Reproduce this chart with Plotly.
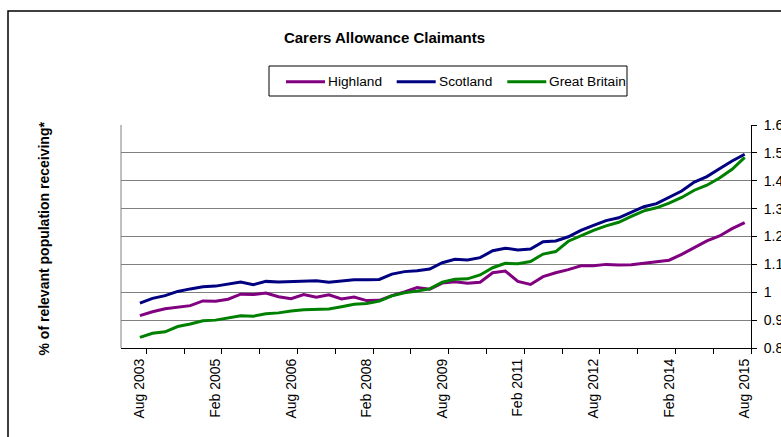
import pandas as pd
import plotly.graph_objects as go

# Quarterly observations, Aug 2003 to Aug 2015
quarters = pd.date_range("2003-08-01", periods=49, freq="3MS").strftime("%b %Y").tolist()

highland = [
    0.916, 0.930, 0.941, 0.947, 0.952, 0.969, 0.968, 0.975, 0.993, 0.992,
    0.997, 0.984, 0.977, 0.992, 0.982, 0.991, 0.976, 0.983, 0.970, 0.971,
    0.988, 1.001, 1.017, 1.011, 1.033, 1.038, 1.032, 1.036, 1.070, 1.076,
    1.039, 1.028, 1.056, 1.070, 1.081, 1.095, 1.095, 1.100, 1.098, 1.099,
    1.105, 1.110, 1.115, 1.136, 1.160, 1.184, 1.202, 1.228, 1.250,
]
scotland = [
    0.961, 0.978, 0.988, 1.003, 1.012, 1.020, 1.022, 1.030, 1.037, 1.027,
    1.039, 1.037, 1.038, 1.040, 1.041, 1.036, 1.040, 1.045, 1.045, 1.046,
    1.065, 1.074, 1.077, 1.083, 1.106, 1.118, 1.116, 1.124, 1.149, 1.158,
    1.152, 1.155, 1.181, 1.184, 1.199, 1.222, 1.240, 1.257, 1.267, 1.287,
    1.307, 1.318, 1.340, 1.363, 1.395, 1.415, 1.443, 1.471, 1.495,
]
great_britain = [
    0.838, 0.853, 0.858, 0.877, 0.886, 0.898, 0.900, 0.909, 0.916, 0.914,
    0.923, 0.926, 0.933, 0.937, 0.939, 0.940, 0.948, 0.957, 0.960, 0.968,
    0.987, 0.998, 1.004, 1.012, 1.036, 1.047, 1.048, 1.062, 1.088, 1.104,
    1.102, 1.110, 1.137, 1.146, 1.183, 1.202, 1.222, 1.238, 1.251, 1.272,
    1.292, 1.303, 1.320, 1.340, 1.366, 1.384, 1.410, 1.441, 1.484,
]

tick_labels = ["Aug 2003", "Feb 2005", "Aug 2006", "Feb 2008", "Aug 2009",
               "Feb 2011", "Aug 2012", "Feb 2014", "Aug 2015"]
y_ticks = [0.8, 0.9, 1.0, 1.1, 1.2, 1.3, 1.4, 1.5, 1.6]

# Slot 0 on the category axis is an empty leading quarter
x = list(range(1, len(quarters) + 1))
n_slots = len(quarters) + 1

FONT = "Liberation Sans, Arial, sans-serif"

series = [
    ("Highland", highland, "#800080"),
    ("Scotland", scotland, "#000080"),
    ("Great Britain", great_britain, "#008000"),
]

W, H = 781, 437
ml, mr, mt, mb = 121, 30, 125, 89
pw, ph = W - ml - mr, H - mt - mb


def px_x(p):
    return (p - ml) / pw


def px_y(p):
    return (H - mb - p) / ph


fig = go.Figure()
for name, values, color in series:
    fig.add_trace(go.Scatter(
        x=x, y=values, name=name, mode="lines",
        line=dict(color=color, width=3),
        showlegend=False,
    ))

# Key box: a coloured line swatch followed by the series name
key_left, key_right, key_top, key_bottom = 269, 627, 66, 96
key_mid = 81.7
swatch_starts = [286, 396.7, 507.3]
swatch_len = 39
key_shapes, key_texts = [], []
for (name, _, color), sx in zip(series, swatch_starts):
    key_shapes.append(dict(
        type="line", xref="paper", yref="paper",
        x0=px_x(sx), x1=px_x(sx + swatch_len), y0=px_y(key_mid), y1=px_y(key_mid),
        line=dict(color=color, width=3),
    ))
    key_texts.append(dict(
        text=name, xref="paper", yref="paper",
        x=px_x(sx + swatch_len + 2), y=px_y(key_mid),
        xanchor="left", yanchor="middle", showarrow=False, borderpad=0,
        font=dict(family=FONT, size=13.7, color="black"),
    ))

fig.update_layout(
    width=W, height=H,
    margin=dict(l=ml, r=mr, t=mt, b=mb, pad=0, autoexpand=False),
    paper_bgcolor="white", plot_bgcolor="white",
    font=dict(family=FONT, size=14, color="black"),
    showlegend=False,
    title=dict(
        text="<b>Carers Allowance Claimants</b>",
        font=dict(family=FONT, size=15, color="black"),
        x=384.5 / W, xref="container", xanchor="center",
        y=1 - 38 / H, yref="container", yanchor="middle",
    ),
    xaxis=dict(
        range=[-0.5, n_slots - 0.5],
        tickmode="array",
        tickvals=[quarters.index(t) + 1 for t in tick_labels],
        ticktext=tick_labels,
        tickangle=-90,
        ticks="",
        showgrid=False, zeroline=False,
        showline=True, linecolor="black", linewidth=1,
        tickfont=dict(family=FONT, size=14, color="black"),
        minor=dict(
            tickmode="linear", tick0=1.5, dtick=3,
            ticks="outside", ticklen=5, tickcolor="black", tickwidth=1,
            showgrid=False,
        ),
        ticklabelstandoff=4,
        automargin=False,
        fixedrange=True,
    ),
    yaxis=dict(
        side="right",
        range=[0.8, 1.6],
        tickmode="array",
        tickvals=y_ticks,
        ticktext=[f"{v:g}" for v in y_ticks],
        ticks="outside", ticklen=5, tickcolor="black", tickwidth=1,
        showline=True, linecolor="black", linewidth=1,
        showgrid=True, gridcolor="#808080", gridwidth=1,
        zeroline=False,
        tickfont=dict(family=FONT, size=14, color="black"),
        ticklabelstandoff=4,
        automargin=False,
        fixedrange=True,
    ),
    shapes=[
        # left edge of the plotting area
        dict(type="line", xref="paper", yref="paper", x0=0, x1=0, y0=0, y1=1,
             line=dict(color="#808080", width=1)),
        # outer chart frame
        dict(type="rect", xref="paper", yref="paper",
             x0=px_x(8), x1=px_x(W + 20), y0=px_y(H + 20), y1=px_y(11),
             line=dict(color="black", width=1.5)),
        # key frame
        dict(type="rect", xref="paper", yref="paper",
             x0=px_x(key_left), x1=px_x(key_right),
             y0=px_y(key_bottom), y1=px_y(key_top),
             line=dict(color="black", width=1)),
    ] + key_shapes,
    annotations=[
        dict(
            text="<b>% of relevant population receiving*</b>",
            xref="paper", yref="paper",
            x=px_x(43.5), y=px_y(239),
            xanchor="center", yanchor="middle",
            textangle=-90, showarrow=False,
            font=dict(family=FONT, size=14, color="black"),
        ),
    ] + key_texts,
)

fig.write_html("out.html")
